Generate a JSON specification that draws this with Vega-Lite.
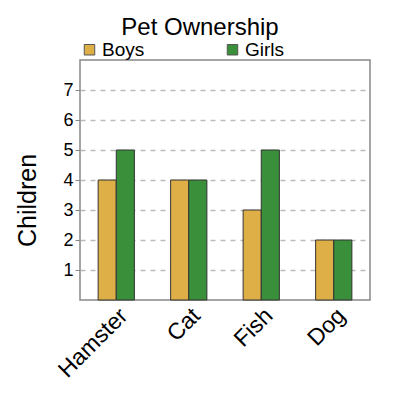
{
  "$schema": "https://vega.github.io/schema/vega-lite/v6.json",
  "width": 290,
  "height": 240,
  "autosize": {"type": "none"},
  "padding": {"left": 80, "top": 60, "right": 30, "bottom": 100},
  "background": "white",
  "title": {
    "text": "Pet Ownership",
    "font": "Liberation Sans",
    "fontSize": 24,
    "fontWeight": "normal",
    "color": "black",
    "anchor": "middle",
    "offset": 0,
    "dx": -25
  },
  "data": {
    "values": [
      {"Pet": "Hamster", "Group": "Boys", "Children": 4},
      {"Pet": "Hamster", "Group": "Girls", "Children": 5},
      {"Pet": "Cat", "Group": "Boys", "Children": 4},
      {"Pet": "Cat", "Group": "Girls", "Children": 4},
      {"Pet": "Fish", "Group": "Boys", "Children": 3},
      {"Pet": "Fish", "Group": "Girls", "Children": 5},
      {"Pet": "Dog", "Group": "Boys", "Children": 2},
      {"Pet": "Dog", "Group": "Girls", "Children": 2}
    ]
  },
  "mark": {"type": "bar", "stroke": "#333333", "strokeWidth": 1},
  "encoding": {
    "x": {
      "field": "Pet",
      "type": "nominal",
      "sort": ["Hamster", "Cat", "Fish", "Dog"],
      "scale": {"paddingInner": 0.5, "paddingOuter": 0.25},
      "axis": {
        "title": null,
        "labelAngle": -45,
        "labelFont": "Liberation Sans",
        "labelFontSize": 23,
        "labelColor": "black",
        "ticks": false,
        "domain": false,
        "labelPadding": 4
      }
    },
    "xOffset": {"field": "Group", "type": "nominal", "sort": ["Boys", "Girls"]},
    "y": {
      "field": "Children",
      "type": "quantitative",
      "scale": {"domain": [0, 8], "nice": false},
      "axis": {
        "title": "Children",
        "titleFont": "Liberation Sans",
        "titleFontSize": 25,
        "titleFontWeight": "normal",
        "titleColor": "black",
        "titlePadding": 22,
        "titleY": 140,
        "values": [1, 2, 3, 4, 5, 6, 7],
        "labelFont": "Liberation Sans",
        "labelFontSize": 18,
        "labelColor": "black",
        "tickColor": "#888888",
        "tickSize": 5,
        "domain": false,
        "grid": true,
        "gridDash": [5, 5],
        "gridColor": "#bbbbbb",
        "gridWidth": 1.5
      }
    },
    "color": {
      "field": "Group",
      "type": "nominal",
      "scale": {"domain": ["Boys", "Girls"], "range": ["#dfaf47", "#3a8f3a"]},
      "legend": {
        "title": null,
        "orient": "none",
        "legendX": 0,
        "legendY": -20,
        "direction": "horizontal",
        "columns": 2,
        "columnPadding": 78,
        "symbolType": "square",
        "symbolSize": 110,
        "symbolStrokeColor": "#555555",
        "symbolStrokeWidth": 1,
        "symbolOpacity": 1,
        "labelFont": "Liberation Sans",
        "labelFontSize": 19,
        "labelColor": "black",
        "labelOffset": 3
      }
    }
  },
  "config": {
    "view": {"stroke": "#888888", "strokeWidth": 1.5}
  }
}
